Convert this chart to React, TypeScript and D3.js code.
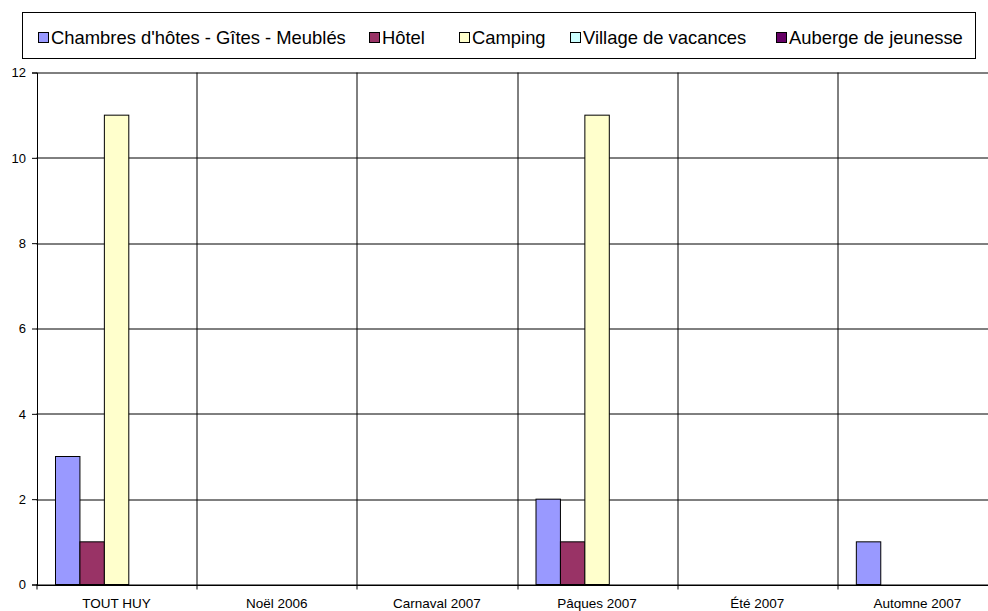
import React, { useRef, useEffect } from "react";
import * as d3 from "d3";

const categories = ["TOUT HUY", "Noël 2006", "Carnaval 2007", "Pâques 2007", "Été 2007", "Automne 2007"];
const seriesNames = [
  "Chambres d'hôtes - Gîtes - Meublés",
  "Hôtel",
  "Camping",
  "Village de vacances",
  "Auberge de jeunesse",
];
const seriesColors = ["#9999ff", "#993366", "#ffffcc", "#ccffff", "#660066"];
const chambres = [3, 0, 0, 2, 0, 1];
const hotel = [1, 0, 0, 1, 0, 0];
const camping = [11, 0, 0, 11, 0, 0];
const village = [0, 0, 0, 0, 0, 0];
const auberge = [0, 0, 0, 0, 0, 0];
const yTicks = [0, 2, 4, 6, 8, 10, 12];

const WIDTH = 988;
const HEIGHT = 611;

export default function App() {
  const svgRef = useRef<SVGSVGElement>(null);

  useEffect(() => {
    const svg = d3.select(svgRef.current);
    svg.selectAll("*").remove();

    const values = [chambres, hotel, camping, village, auberge];
    const font = "'Liberation Sans', Arial, sans-serif";

    // plot area (the right edge runs past the window, as in the original)
    const left = 36.5;
    const top = 72.5;
    const plotW = 961;
    const plotH = 512;

    svg.append("rect").attr("width", WIDTH).attr("height", HEIGHT).attr("fill", "#fff");

    const g = svg.append("g").attr("transform", `translate(${left},${top})`);

    const x0 = d3.scaleBand<string>().domain(categories).range([0, plotW]);
    const x1 = d3
      .scaleBand<number>()
      .domain(d3.range(seriesNames.length))
      .range([19, x0.bandwidth() - 19]);
    const y = d3.scaleLinear().domain([0, 12]).range([plotH, 0]);

    // horizontal gridlines
    g.append("g")
      .selectAll("line")
      .data(yTicks)
      .join("line")
      .attr("x1", 0)
      .attr("x2", plotW)
      .attr("y1", (d) => Math.round(y(d)) + 0.5)
      .attr("y2", (d) => Math.round(y(d)) + 0.5)
      .attr("stroke", "#000")
      .attr("stroke-width", 1);

    // vertical gridlines between categories
    g.append("g")
      .selectAll("line")
      .data(categories.slice(1))
      .join("line")
      .attr("x1", (d) => Math.round(x0(d)!) + 0.5)
      .attr("x2", (d) => Math.round(x0(d)!) + 0.5)
      .attr("y1", 0)
      .attr("y2", plotH + 5)
      .attr("stroke", "#000");

    // bars
    values.forEach((vals, si) => {
      g.append("g")
        .selectAll("rect")
        .data(categories.map((c, i) => ({ c, v: vals[i] })).filter((d) => d.v > 0))
        .join("rect")
        .attr("x", (d) => x0(d.c)! + x1(si)!)
        .attr("y", (d) => y(d.v))
        .attr("width", x1.bandwidth())
        .attr("height", (d) => plotH - y(d.v))
        .attr("fill", seriesColors[si])
        .attr("stroke", "#000")
        .attr("stroke-width", 1);
    });

    // y axis
    const yAxis = g
      .append("g")
      .attr("transform", "translate(0.5,0)")
      .call(d3.axisLeft(y).tickValues(yTicks).tickSize(5).tickPadding(6).tickFormat(d3.format("d")));
    yAxis.select(".domain").attr("stroke", "#000");
    yAxis.selectAll(".tick line").attr("stroke", "#000");
    yAxis.selectAll("text").attr("fill", "#000").attr("font-size", "13px").attr("font-family", font);

    // x axis
    const xAxis = g
      .append("g")
      .attr("transform", `translate(0,${plotH + 0.5})`)
      .call(d3.axisBottom(x0).tickSize(0).tickPadding(13));
    xAxis.select(".domain").attr("stroke", "#000");
    xAxis.selectAll("text").attr("fill", "#000").attr("font-size", "13.5px").attr("font-family", font);
    g.append("line")
      .attr("x1", 0.5)
      .attr("x2", 0.5)
      .attr("y1", plotH)
      .attr("y2", plotH + 5)
      .attr("stroke", "#000");

    // legend
    const legend = svg.append("g");
    legend
      .append("rect")
      .attr("x", 22.5)
      .attr("y", 12.5)
      .attr("width", 953)
      .attr("height", 46)
      .attr("fill", "#fff")
      .attr("stroke", "#000");

    const legendX = [38, 369, 459, 570, 776];
    seriesNames.forEach((name, i) => {
      const item = legend.append("g").attr("transform", `translate(${legendX[i]},0)`);
      item
        .append("rect")
        .attr("x", 0.5)
        .attr("y", 32.5)
        .attr("width", 10)
        .attr("height", 10)
        .attr("fill", seriesColors[i])
        .attr("stroke", "#000");
      item
        .append("text")
        .attr("x", 13)
        .attr("y", 43.5)
        .attr("font-size", "18.4px")
        .attr("font-family", font)
        .attr("fill", "#000")
        .text(name);
    });
  }, []);

  return (
    <svg
      ref={svgRef}
      width={WIDTH}
      height={HEIGHT}
      style={{ position: "absolute", left: 0, top: 0, display: "block" }}
    />
  );
}
